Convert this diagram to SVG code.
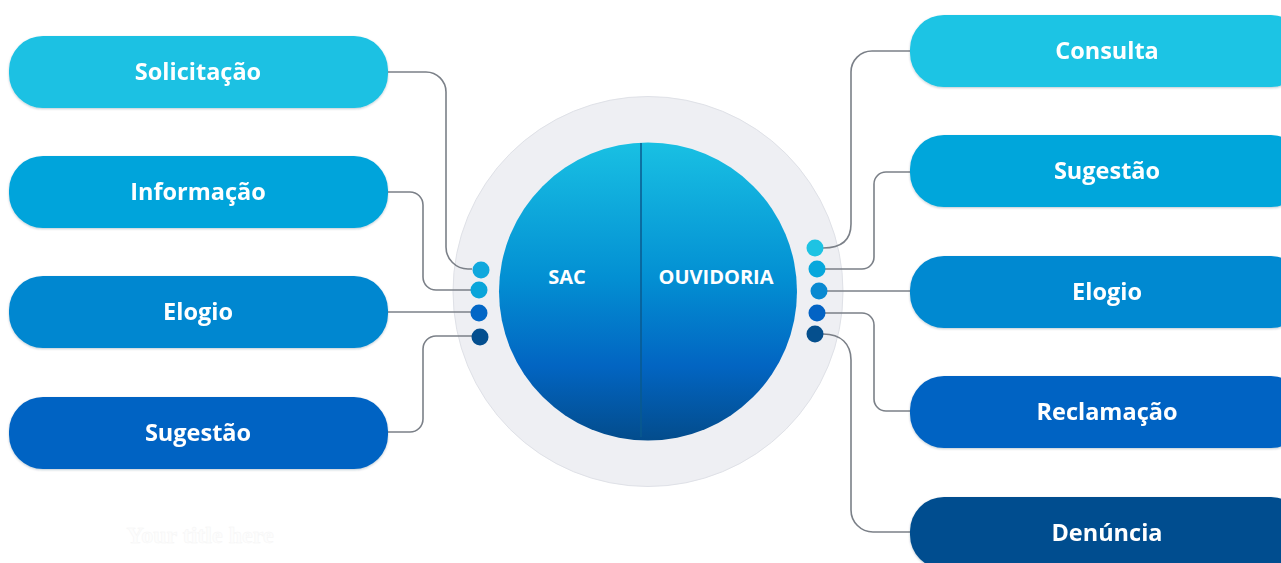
<svg xmlns="http://www.w3.org/2000/svg" width="1281" height="563" viewBox="0 0 1281 563">
<defs>
<linearGradient id="core" x1="0" y1="0" x2="0" y2="1">
<stop offset="0" stop-color="#19c0e3"/>
<stop offset="0.45" stop-color="#0390d3"/>
<stop offset="0.75" stop-color="#0265c2"/>
<stop offset="1" stop-color="#034c8c"/>
</linearGradient>
<filter id="sh" x="-10%" y="-20%" width="120%" height="140%">
<feDropShadow dx="0" dy="1" stdDeviation="1" flood-color="#0a3050" flood-opacity="0.25"/>
</filter>
</defs>
<style>
.lbl{font-family:"Open Sans","Noto Sans","Liberation Sans",sans-serif;font-weight:700;font-size:23.5px;fill:#ffffff;text-anchor:middle}
.core{font-family:"Open Sans","Noto Sans","Liberation Sans",sans-serif;font-weight:700;font-size:20px;fill:#ffffff;text-anchor:middle}
.conn path{fill:none;stroke:#7b8088;stroke-width:1.6}
.pill{filter:url(#sh)}
</style>
<rect width="1281" height="563" fill="#ffffff"/>
<text x="200" y="543" font-family="Liberation Serif, serif" font-weight="700" font-size="24" fill="#fdfdfd" stroke="#f5f5f5" stroke-width="0.5" text-anchor="middle">Your title here</text>

<g id="hub">
<circle cx="648" cy="291.5" r="195" fill="#eeeff3" stroke="#dfe1e7" stroke-width="1"/>
<circle cx="648" cy="291.5" r="149" fill="url(#core)"/>
<line x1="641" y1="143" x2="641" y2="437" stroke="#0a5a8e" stroke-width="1.5"/>
<text class="core" x="567" y="284">SAC</text>
<text class="core" x="716" y="284">OUVIDORIA</text>
</g>

<g id="conn" class="conn">
<path d="M388,72 H426 A20,20 0 0 1 446,92 V247 A22,22 0 0 0 468,269 H472"/>
<path d="M388,192 H410 A13,13 0 0 1 423,205 V277 A13,13 0 0 0 436,290 H472"/>
<path d="M388,312 H472"/>
<path d="M388,432 H410 A13,13 0 0 0 423,419 V349 A13,13 0 0 1 436,336 H472"/>
<path d="M823,248 C841,248 851,240 851,224 V72 A21,21 0 0 1 872,51 H910"/>
<path d="M825,269 H862 A12,12 0 0 0 874,257 V184 A12,12 0 0 1 886,172 H910"/>
<path d="M827,291 H910"/>
<path d="M825,313 H862 A12,12 0 0 1 874,325 V399 A12,12 0 0 0 886,411 H910"/>
<path d="M823,334 C841,334 851,344 851,360 V510 A22,22 0 0 0 873,532 H910"/>
</g>

<g id="dots">
<circle cx="481" cy="270" r="8.5" fill="#10a8dd"/>
<circle cx="479" cy="290" r="8.5" fill="#0aa5da"/>
<circle cx="479" cy="313" r="8.5" fill="#0367c6"/>
<circle cx="480" cy="337" r="8.5" fill="#044f8f"/>
<circle cx="815" cy="248" r="8.5" fill="#1ec3e3"/>
<circle cx="817" cy="269" r="8.5" fill="#07a7dc"/>
<circle cx="819" cy="291" r="8.5" fill="#0989d1"/>
<circle cx="817" cy="313" r="8.5" fill="#0363c4"/>
<circle cx="815" cy="334" r="8.5" fill="#054f8d"/>
</g>

<g id="n-solicitacao" class="pill"><rect x="9" y="36" width="379" height="72" rx="34" fill="#1bc1e3"/><text class="lbl" x="198" y="80">Solicitação</text></g>
<g id="n-informacao" class="pill"><rect x="9" y="156" width="379" height="72" rx="34" fill="#06a4db"/><text class="lbl" x="198" y="200">Informação</text></g>
<g id="n-elogio-l" class="pill"><rect x="9" y="276" width="379" height="72" rx="34" fill="#0287d0"/><text class="lbl" x="198" y="320">Elogio</text></g>
<g id="n-sugestao-l" class="pill"><rect x="9" y="397" width="379" height="72" rx="34" fill="#0564c3"/><text class="lbl" x="198" y="441">Sugestão</text></g>

<g id="n-consulta" class="pill"><rect x="910" y="15" width="395" height="72" rx="34" fill="#1bc4e4"/><text class="lbl" x="1107" y="59">Consulta</text></g>
<g id="n-sugestao-r" class="pill"><rect x="910" y="135" width="395" height="72" rx="34" fill="#05a6db"/><text class="lbl" x="1107" y="179">Sugestão</text></g>
<g id="n-elogio-r" class="pill"><rect x="910" y="256" width="395" height="72" rx="34" fill="#0289d1"/><text class="lbl" x="1107" y="300">Elogio</text></g>
<g id="n-reclamacao" class="pill"><rect x="910" y="376" width="395" height="72" rx="34" fill="#0564c3"/><text class="lbl" x="1107" y="420">Reclamação</text></g>
<g id="n-denuncia" class="pill"><rect x="910" y="497" width="395" height="72" rx="34" fill="#044e8f"/><text class="lbl" x="1107" y="541">Denúncia</text></g>
</svg>
